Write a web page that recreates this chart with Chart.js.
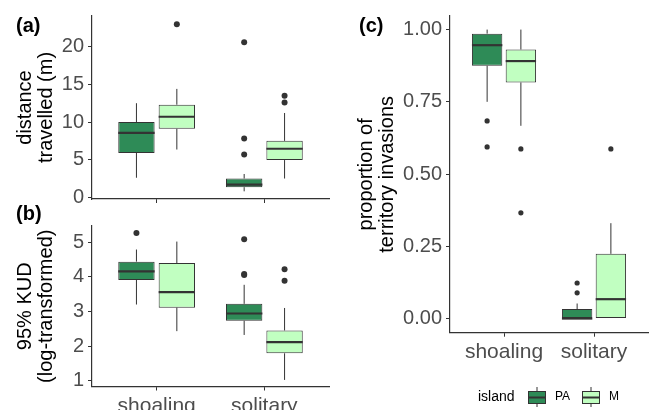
<!DOCTYPE html>
<html>
<head>
<meta charset="utf-8">
<script src="https://cdn.jsdelivr.net/npm/chart.js@4"></script>
<style>
  body { margin: 0; background: #fff; overflow: hidden; }
  #wrap { position: relative; width: 651px; height: 410px; overflow: hidden; font-family: "Liberation Sans", Arial, sans-serif; }
  canvas { position: absolute; }
  .tag { position: absolute; font-weight: bold; font-size: 20px; line-height: 20px; color: #000; }
</style>
</head>
<body>
<div id="wrap">
  <canvas id="chartA" width="330" height="215" style="left:0;top:0"></canvas>
  <canvas id="chartB" width="330" height="215" style="left:0;top:210px"></canvas>
  <canvas id="chartC" width="321" height="410" style="left:330px;top:0"></canvas>
  <div class="tag" style="left:16px;top:15px">(a)</div>
  <div class="tag" style="left:16px;top:203px">(b)</div>
  <div class="tag" style="left:359px;top:15px">(c)</div>
</div>
<script>
const groups = ['shoaling', 'solitary'];
const islands = ['PA', 'M'];
const islandColors = ['#2E8B57', '#C1FFC1'];

// box stats per group: [lower whisker, q1, median, q3, upper whisker]
// (a) distance travelled (m)
const distPA = [[2.6, 5.9, 8.55, 10.0, 12.5], [0.8, 1.35, 1.7, 2.5, 3.1]];
const distPAOut = [[], [5.7, 7.8, 20.6]];
const distM = [[6.35, 9.1, 10.7, 12.3, 14.4], [2.5, 4.95, 6.45, 7.5, 11.2]];
const distMOut = [[23.0], [12.6, 13.5]];
const distTicks = [0, 5, 10, 15, 20];

// (b) 95% KUD (log-transformed)
const kudPA = [[3.2, 3.91, 4.16, 4.44, 4.79], [2.32, 2.73, 2.94, 3.22, 3.77]];
const kudPAOut = [[5.27], [4.05, 4.08, 5.09]];
const kudM = [[2.43, 3.11, 3.56, 4.40, 5.02], [1.02, 1.79, 2.11, 2.45, 3.1]];
const kudMOut = [[], [3.89, 4.22]];
const kudTicks = [1, 2, 3, 4, 5];

// (c) proportion of territory invasions
const invPA = [[0.75, 0.875, 0.946, 0.986, 1.0], [0, 0, 0, 0.033, 0.052]];
const invPAOut = [[0.684, 0.594], [0.089, 0.123]];
const invM = [[0.667, 0.817, 0.891, 0.931, 1.0], [0, 0, 0.067, 0.224, 0.33]];
const invMOut = [[0.587, 0.366], [0.587]];
const invTicks = [0, 0.25, 0.5, 0.75, 1];

const FONT = '"Liberation Sans", Arial, sans-serif';

const boxExtras = {
    id: 'boxExtras',
    afterDatasetsDraw(chart) {
        const ctx = chart.ctx;
        const yScale = chart.scales.y;
        const r = chart.options.plugins.boxExtras.radius;
        chart.data.datasets.forEach((ds, di) => {
            const meta = chart.getDatasetMeta(di);
            meta.data.forEach((bar, i) => {
                const s = ds.stats[i];
                const half = bar.width / 2;
                const py = v => yScale.getPixelForValue(v);
                ctx.save();
                ctx.strokeStyle = '#333';
                ctx.lineWidth = 1;
                ctx.beginPath();
                ctx.moveTo(bar.x, py(s[0]));
                ctx.lineTo(bar.x, py(s[1]));
                ctx.moveTo(bar.x, py(s[3]));
                ctx.lineTo(bar.x, py(s[4]));
                ctx.stroke();
                ctx.lineWidth = 2.2;
                ctx.beginPath();
                ctx.moveTo(bar.x - half, py(s[2]));
                ctx.lineTo(bar.x + half, py(s[2]));
                ctx.stroke();
                ctx.fillStyle = '#333';
                ds.outliers[i].forEach(v => {
                    ctx.beginPath();
                    ctx.arc(bar.x, py(v), r, 0, Math.PI * 2);
                    ctx.fill();
                });
                ctx.restore();
            });
        });
    }
};

const islandLegend = {
    id: 'islandLegend',
    afterDraw(chart) {
        const ctx = chart.ctx;
        const y = 397;
        ctx.save();
        ctx.fillStyle = '#000';
        ctx.textBaseline = 'middle';
        ctx.font = '14px ' + FONT;
        ctx.fillText('island', 148, y);
        const keys = [198, 252];
        chart.data.datasets.forEach((ds, i) => {
            const x0 = keys[i];
            const w = 18;
            ctx.fillStyle = ds.backgroundColor;
            ctx.fillRect(x0, y - 6, w, 12);
            ctx.strokeStyle = '#333';
            ctx.lineWidth = 1;
            ctx.strokeRect(x0 + 0.5, y - 6 + 0.5, w - 1, 12);
            ctx.beginPath();
            ctx.moveTo(x0 + w / 2, y - 10);
            ctx.lineTo(x0 + w / 2, y - 6);
            ctx.moveTo(x0 + w / 2, y + 6.5);
            ctx.lineTo(x0 + w / 2, y + 10);
            ctx.stroke();
            ctx.lineWidth = 2;
            ctx.beginPath();
            ctx.moveTo(x0, y + 0.5);
            ctx.lineTo(x0 + w, y + 0.5);
            ctx.stroke();
            ctx.fillStyle = '#000';
            ctx.font = '12px ' + FONT;
            ctx.fillText(ds.label, x0 + w + 9, y);
        });
        ctx.restore();
    }
};

function makeDatasets(statsList, outList) {
    return islands.map((name, k) => ({
        label: name,
        data: statsList[k].map((s, i) => ({ x: i + 1, y: [s[1], s[3]] })),
        stats: statsList[k],
        outliers: outList[k],
        backgroundColor: islandColors[k],
        borderColor: '#333',
        borderWidth: 1,
        borderSkipped: false,
        categoryPercentage: 0.75,
        barPercentage: 0.9
    }));
}

function boxChart(id, cfg) {
    return new Chart(document.getElementById(id), {
        type: 'bar',
        data: { datasets: makeDatasets(cfg.stats, cfg.outliers) },
        options: {
            responsive: false,
            animation: false,
            layout: { padding: cfg.padding },
            plugins: {
                legend: { display: false },
                tooltip: { enabled: false },
                boxExtras: { radius: cfg.radius }
            },
            scales: {
                x: {
                    type: 'linear',
                    offset: false,
                    min: 0.4,
                    max: 2.6,
                    afterBuildTicks: (scale) => { scale.ticks = groups.map((g, i) => ({ value: i + 1 })); },
                    afterFit: (scale) => { scale.height = cfg.xHeight; },
                    border: { display: true, color: '#333', width: 1.2 },
                    grid: { display: true, offset: false, drawOnChartArea: false, drawTicks: true, tickLength: 4, color: '#333' },
                    ticks: {
                        display: cfg.xLabels,
                        padding: 3,
                        color: '#4D4D4D',
                        font: { family: FONT, size: 21 },
                        callback: (v) => groups[Math.round(v) - 1]
                    }
                },
                y: {
                    min: cfg.yMin,
                    max: cfg.yMax,
                    afterBuildTicks: (scale) => { scale.ticks = cfg.yTicks.map(v => ({ value: v })); },
                    afterFit: (scale) => { scale.width = cfg.yWidth; },
                    border: { display: true, color: '#333', width: 1.2 },
                    grid: { display: true, drawOnChartArea: false, drawTicks: true, tickLength: 4, color: '#333' },
                    ticks: {
                        padding: 4,
                        color: '#4D4D4D',
                        font: { family: FONT, size: 20 },
                        callback: cfg.yFormat
                    },
                    title: {
                        display: true,
                        text: cfg.title,
                        color: '#000',
                        font: { family: FONT, size: 20, lineHeight: 1.05 },
                        padding: { top: cfg.titlePad, bottom: 0 }
                    }
                }
            }
        },
        plugins: cfg.extraPlugins ? [boxExtras].concat(cfg.extraPlugins) : [boxExtras]
    });
}

boxChart('chartA', {
    stats: [distPA, distM], outliers: [distPAOut, distMOut],
    yMin: -0.22, yMax: 24.08, yTicks: distTicks, yFormat: v => String(v),
    title: ['distance', 'travelled (m)'], titlePad: 14.5,
    padding: { top: 14, right: 1, left: 0, bottom: 0 },
    xHeight: 10, yWidth: 92, xLabels: false, radius: 3
});

boxChart('chartB', {
    stats: [kudPA, kudM], outliers: [kudPAOut, kudMOut],
    yMin: 0.83, yMax: 5.47, yTicks: kudTicks, yFormat: v => String(v),
    title: ['95% KUD', '(log-transformed)'], titlePad: 14.5,
    padding: { top: 9, right: 1, left: 0, bottom: 0 },
    xHeight: 38.5, yWidth: 92, xLabels: true, radius: 3
});

boxChart('chartC', {
    stats: [invPA, invM], outliers: [invPAOut, invMOut],
    yMin: -0.049, yMax: 1.047, yTicks: invTicks, yFormat: v => v.toFixed(2),
    title: ['proportion of', 'territory invasions'], titlePad: 25.5,
    padding: { top: 14, right: 3, left: 0, bottom: 0 },
    xHeight: 77.3, yWidth: 120, xLabels: true, radius: 2.6,
    extraPlugins: [islandLegend]
});
</script>
</body>
</html>
